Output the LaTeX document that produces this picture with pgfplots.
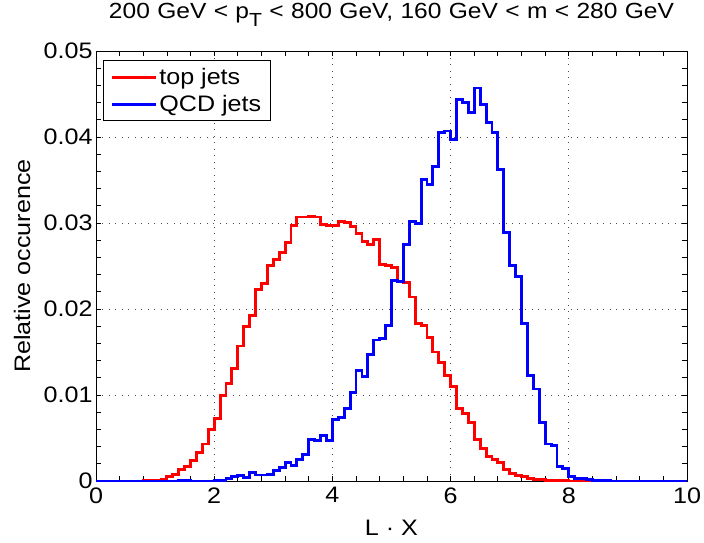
\documentclass[border=0pt]{standalone}
\usepackage{fontspec}
\setmainfont{Liberation Sans}[FakeStretch=1.12]
\newfontfamily\titlefont{Liberation Sans}[FakeStretch=1.12, WordSpace=1.08]
\usepackage{pgfplots}
\pgfplotsset{compat=1.18}

% histogram bins: left edge, relative occurence (bin width 0.1)
\pgfplotstableread{
x y
0.0 0
0.8 0.00003
0.9 0.00005
1.0 0.0001
1.1 0.0002
1.2 0.0005
1.3 0.0008
1.4 0.0013
1.5 0.0017
1.6 0.0024
1.7 0.0033
1.8 0.0043
1.9 0.0060
2.0 0.0073
2.1 0.0099
2.2 0.0113
2.3 0.0131
2.4 0.0157
2.5 0.0180
2.6 0.0192
2.7 0.0223
2.8 0.0230
2.9 0.0251
3.0 0.0258
3.1 0.0266
3.2 0.0277
3.3 0.0297
3.4 0.0307
3.5 0.0307
3.6 0.0308
3.7 0.0307
3.8 0.0298
3.9 0.0297
4.0 0.0297
4.1 0.0302
4.2 0.0301
4.3 0.0296
4.4 0.0288
4.5 0.0278
4.6 0.0275
4.7 0.0281
4.8 0.0252
4.9 0.0251
5.0 0.0248
5.1 0.0232
5.2 0.0231
5.3 0.0214
5.4 0.0183
5.5 0.0181
5.6 0.0167
5.7 0.0150
5.8 0.0138
5.9 0.0123
6.0 0.0110
6.1 0.0084
6.2 0.0079
6.3 0.0068
6.4 0.0048
6.5 0.0038
6.6 0.0028
6.7 0.0025
6.8 0.0021
6.9 0.0013
7.0 0.0009
7.1 0.0006
7.2 0.0005
7.3 0.0003
7.4 0.0002
7.5 0.0002
7.6 0.0001
7.7 0.0001
7.8 0.0001
7.9 0.00005
8.0 0
10.0 0
}\topjets

\pgfplotstableread{
x y
0.0 0
1.4 0.0001
1.6 0
2.0 0.0001
2.1 0.0001
2.2 0.0003
2.3 0.0005
2.4 0.0006
2.5 0.0004
2.6 0.0010
2.7 0.0007
2.8 0.0007
2.9 0.0008
3.0 0.0012
3.1 0.0016
3.2 0.0021
3.3 0.0018
3.4 0.0025
3.5 0.0031
3.6 0.0048
3.7 0.0047
3.8 0.0053
3.9 0.0047
4.0 0.0071
4.1 0.0074
4.2 0.0084
4.3 0.0103
4.4 0.0129
4.5 0.0122
4.6 0.0147
4.7 0.0164
4.8 0.0166
4.9 0.0181
5.0 0.0233
5.1 0.0232
5.2 0.0275
5.3 0.0302
5.4 0.0299
5.5 0.0351
5.6 0.0345
5.7 0.0366
5.8 0.0405
5.9 0.0407
6.0 0.0397
6.1 0.0444
6.2 0.0440
6.3 0.0428
6.4 0.0457
6.5 0.0438
6.6 0.0417
6.7 0.0405
6.8 0.0362
6.9 0.0289
7.0 0.0251
7.1 0.0238
7.2 0.0183
7.3 0.0123
7.4 0.0107
7.5 0.0068
7.6 0.0043
7.7 0.0041
7.8 0.0017
7.9 0.0015
8.0 0.0005
8.1 0.0003
8.2 0.0003
8.3 0.0002
8.4 0.0001
8.5 0.0001
8.6 0.00005
8.7 0
10.0 0
}\qcdjets

\begin{document}
\begin{tikzpicture}
\begin{axis}[
  scale only axis,
  width=591bp, height=430bp,
  xmin=0, xmax=10, ymin=0, ymax=0.05,
  xtick={0,2,4,6,8,10},
  ytick={0,0.01,0.02,0.03,0.04,0.05},
  minor x tick num=4, minor y tick num=4,
  scaled y ticks=false,
  yticklabel style={/pgf/number format/fixed, /pgf/number format/precision=2},
  /pgf/number format/assume math mode=true,
  tick align=inside, tick pos=both,
  major tick length=5bp, minor tick length=5bp,
  every tick/.style={black, line width=0.8bp},
  axis line style={line width=0.8bp},
  ymajorgrids, xmajorgrids,
  major grid style={black!70, line width=0.9bp, dash pattern=on 0.9bp off 5.6bp},
  tick label style={font=\fontsize{22.5}{27}\selectfont},
  xticklabel style={yshift=-3bp},
  label style={font=\fontsize{22.5}{27}\selectfont},
  title style={font=\titlefont\fontsize{22}{26}\selectfont,
    at={(0.5,1)}, anchor=base, yshift=27bp},
  title={200 GeV < p\raisebox{-0.38em}{\fontsize{19}{19}\selectfont T} < 800 GeV, 160 GeV < m < 280 GeV},
  xlabel={L · X},
  xlabel style={at={(axis description cs:0.5,0)}, anchor=base, yshift=-54bp},
  ylabel={Relative occurence},
  ylabel style={at={(axis description cs:-0.1252,0.5)}, anchor=center},
  clip=false,
  legend style={at={(0.0118,0.979)}, anchor=north west, draw=black, line width=0.8bp,
    font=\fontsize{22.5}{27}\selectfont, inner xsep=7bp, inner ysep=6bp,
    row sep=5bp},
  legend cell align=left,
  legend image code/.code={\draw[#1, line width=3bp] (3bp,0bp) -- (47bp,0bp);},
]
\addplot[const plot, red, line width=2.9bp] table[x=x, y=y] {\topjets};
\addlegendentry{top jets}
\addplot[const plot, blue, line width=2.9bp] table[x=x, y=y] {\qcdjets};
\addlegendentry{QCD jets}
\coordinate (bl) at (rel axis cs:0,0);
\coordinate (tr) at (rel axis cs:1,1);
\end{axis}
\pgfresetboundingbox
\useasboundingbox ([shift={(-96bp,-62bp)}]bl) rectangle ([shift={(17bp,51bp)}]tr);
\end{tikzpicture}
\end{document}
